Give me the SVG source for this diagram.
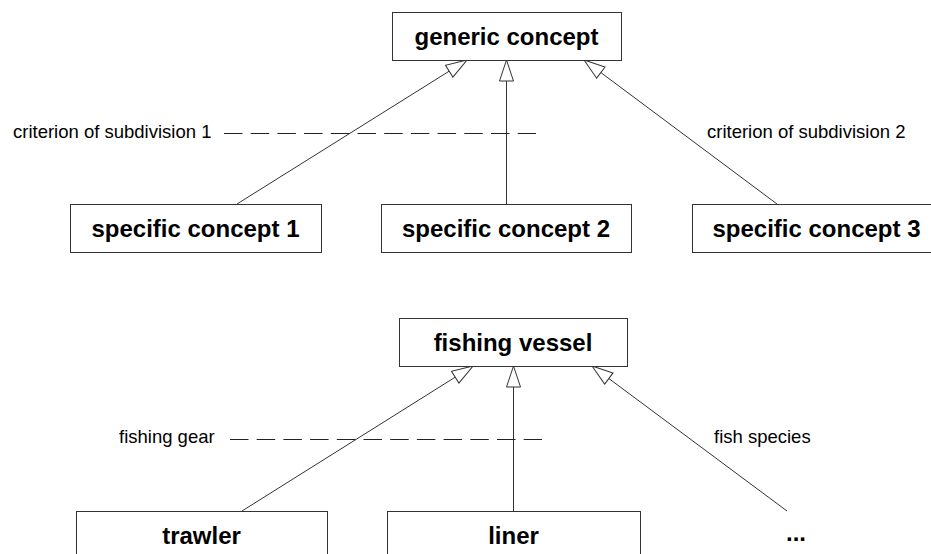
<svg xmlns="http://www.w3.org/2000/svg" width="931" height="554" viewBox="0 0 931 554">
<style>
.box{fill:#fff;stroke:#333;stroke-width:1}
.t{font-family:"Liberation Sans",Arial,sans-serif;font-weight:bold;font-size:24px;fill:#000;text-anchor:middle}
.lbl{font-family:"Liberation Sans",Arial,sans-serif;font-size:18.5px;fill:#000}
.edge{stroke:#333;stroke-width:1;fill:none;marker-end:url(#hollow)}
.dash{stroke:#222;stroke-width:1;stroke-dasharray:18.5 8.2;fill:none}
</style>
<defs>
<marker id="hollow" markerUnits="userSpaceOnUse" orient="auto" refX="21" refY="7" markerWidth="22" markerHeight="14" viewBox="0 0 22 14" overflow="visible">
<path d="M21,7 L0,0 L0,14 Z" fill="#fff" stroke="#333" stroke-width="1"/>
</marker>
</defs>
<rect width="931" height="554" fill="#fff"/>
<g id="connectors">
<line class="edge" x1="237" y1="204" x2="467" y2="60"/>
<line class="edge" x1="506.5" y1="204" x2="506.5" y2="60"/>
<line class="edge" x1="777" y1="204" x2="584" y2="60"/>
<line class="dash" x1="224" y1="133.5" x2="536" y2="133.5"/>
<line class="edge" x1="242" y1="511" x2="473" y2="366"/>
<line class="edge" x1="513.5" y1="511" x2="513.5" y2="366"/>
<line class="edge" x1="787" y1="511" x2="592" y2="366"/>
<line class="dash" x1="230" y1="439.5" x2="542" y2="439.5"/>
</g>
<g id="labels">
<text class="lbl" x="13" y="138">criterion of subdivision 1</text>
<text class="lbl" x="707" y="138">criterion of subdivision 2</text>
<text class="lbl" x="119" y="443">fishing gear</text>
<text class="lbl" x="714" y="443">fish species</text>
</g>
<g id="generic-concept">
<rect class="box" x="392.5" y="12.5" width="229" height="48"/>
<text class="t" x="506.5" y="45">generic concept</text>
</g>
<g id="specific-concept-1">
<rect class="box" x="70.5" y="204.5" width="251" height="48"/>
<text class="t" x="195.5" y="237">specific concept 1</text>
</g>
<g id="specific-concept-2">
<rect class="box" x="381.5" y="204.5" width="250" height="48"/>
<text class="t" x="506" y="237">specific concept 2</text>
</g>
<g id="specific-concept-3">
<rect class="box" x="692.5" y="204.5" width="250" height="48"/>
<text class="t" x="816.5" y="237">specific concept 3</text>
</g>
<g id="fishing-vessel">
<rect class="box" x="399.5" y="318.5" width="228" height="48"/>
<text class="t" x="513" y="351">fishing vessel</text>
</g>
<g id="trawler">
<rect class="box" x="76.5" y="511.5" width="251" height="48"/>
<text class="t" x="201.5" y="544">trawler</text>
</g>
<g id="liner">
<rect class="box" x="387.5" y="511.5" width="253" height="48"/>
<text class="t" x="513.5" y="544">liner</text>
</g>
<g id="more">
<text class="t" x="796" y="541">...</text>
</g>
</svg>
